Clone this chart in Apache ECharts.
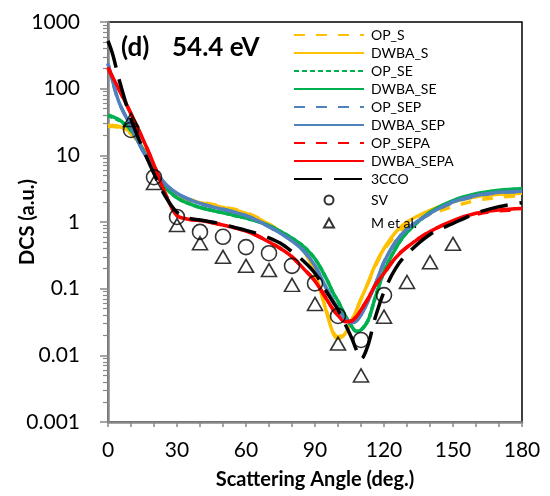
<!DOCTYPE html>
<html><head><meta charset="utf-8">
<script src="https://cdn.jsdelivr.net/npm/echarts@6/dist/echarts.min.js"></script>
<style>html,body{margin:0;padding:0;background:#fff}#c{width:550px;height:496px}</style>
</head><body><div id="c"></div>
<script>
const angles = [0,2,5,10,15,20,25,30,35,40,45,50,55,60,65,70,75,80,85,90,95,98,100,103,106,108,110,113,116,120,125,130,140,150,160,170,180];
const OP_S      = [27,27,26,21,13,6.3,3.5,2.6,2.2,2.0,1.85,1.7,1.55,1.38,1.17,0.93,0.72,0.55,0.38,0.17,0.046,0.022,0.019,0.022,0.034,0.048,0.07,0.12,0.21,0.38,0.62,0.88,1.3,1.7,2.1,2.35,2.5];
const DWBA_S    = [28,28,27,22,13,6.2,3.4,2.5,2.15,1.95,1.8,1.65,1.5,1.35,1.15,0.92,0.72,0.55,0.38,0.17,0.045,0.021,0.018,0.021,0.033,0.047,0.07,0.12,0.22,0.4,0.7,1.0,1.5,2.0,2.4,2.6,2.7];
const OP_SE     = [39,37,33,23.5,12.5,6,3.3,2.3,1.9,1.65,1.5,1.38,1.25,1.15,1.02,0.88,0.72,0.57,0.43,0.28,0.14,0.085,0.065,0.04,0.027,0.023,0.024,0.033,0.07,0.18,0.4,0.7,1.38,2.05,2.6,2.95,3.1];
const DWBA_SE   = [40,38,34,24,12.5,6,3.3,2.3,1.9,1.65,1.5,1.38,1.25,1.15,1.02,0.88,0.72,0.57,0.43,0.28,0.14,0.085,0.065,0.04,0.027,0.023,0.024,0.033,0.07,0.18,0.4,0.7,1.4,2.1,2.65,3.0,3.15];
const OP_SEP    = [235,128,60,27,12,6.3,3.7,2.7,2.2,1.9,1.7,1.55,1.4,1.25,1.05,0.85,0.68,0.52,0.37,0.22,0.1,0.065,0.05,0.036,0.031,0.033,0.04,0.065,0.11,0.25,0.5,0.78,1.33,1.95,2.45,2.75,2.85];
const DWBA_SEP  = [240,130,60,27,12,6.3,3.7,2.7,2.2,1.9,1.7,1.55,1.4,1.25,1.05,0.85,0.68,0.52,0.37,0.22,0.1,0.065,0.05,0.036,0.031,0.033,0.04,0.065,0.11,0.25,0.5,0.78,1.35,2.0,2.5,2.8,2.9];
const OP_SEPA   = [205,148,94,42,18,7.2,2.6,1.25,1.1,1.05,0.98,0.9,0.82,0.73,0.62,0.5,0.4,0.3,0.2,0.13,0.07,0.048,0.04,0.032,0.033,0.038,0.048,0.07,0.11,0.17,0.29,0.42,0.72,1.03,1.3,1.47,1.52];
const DWBA_SEPA = [210,150,95,42,18,7.2,2.6,1.25,1.1,1.05,0.98,0.9,0.82,0.73,0.62,0.5,0.4,0.3,0.2,0.13,0.07,0.048,0.04,0.032,0.033,0.038,0.048,0.07,0.11,0.17,0.29,0.42,0.72,1.05,1.35,1.52,1.6];
const CCO3      = [520,330,130,35,13,5.3,2.4,1.4,1.15,1.07,1.0,0.92,0.83,0.75,0.67,0.58,0.48,0.36,0.26,0.17,0.09,0.062,0.048,0.03,0.018,0.012,0.0088,0.014,0.035,0.09,0.2,0.33,0.65,0.95,1.35,1.7,1.95];
const svAngles  = [10,20,30,40,50,60,70,80,90,100,110,120];
const svValues  = [24,4.7,1.19,0.71,0.6,0.42,0.34,0.22,0.12,0.039,0.017,0.08];
const mAngles   = [10,20,30,40,50,60,70,80,90,100,110,120,130,140,150];
const mValues   = [34,3.85,0.9,0.48,0.3,0.22,0.19,0.114,0.059,0.015,0.005,0.038,0.126,0.25,0.47];
const yMinorTicks = [];
[0.001,0.01,0.1,1,10,100].forEach(d=>{for(let k=2;k<=9;k++) yMinorTicks.push(+(d*k).toPrecision(3));});

const FONT = 'Lato';
const pair = (xs, ys) => xs.map((x,i)=>[x, ys[i]]);
function lineSeries(name, data, color, type, z){
  return {name, type:'line', data: pair(angles, data), smooth:0.35, symbol:'none', z,
    lineStyle:{color, width:3.5, type}, itemStyle:{color}};
}
const Y='#FFC000', G='#00B050', B='#4F81BD', R='#FF0000';
const series = [
  lineSeries('OP_S', OP_S, Y, [11,11], 2),
  lineSeries('DWBA_S', DWBA_S, Y, 'solid', 2),
  lineSeries('OP_SE', OP_SE, G, [5,3], 2),
  lineSeries('DWBA_SE', DWBA_SE, G, 'solid', 2),
  lineSeries('OP_SEP', OP_SEP, B, [11,11], 2),
  lineSeries('DWBA_SEP', DWBA_SEP, B, 'solid', 2),
  lineSeries('OP_SEPA', OP_SEPA, R, [11,11], 2),
  lineSeries('DWBA_SEPA', DWBA_SEPA, R, 'solid', 2),
  lineSeries('3CCO', CCO3, '#000', [28,12], 2),
  {name:'SV', type:'scatter', data: pair(svAngles, svValues), symbol:'circle', symbolSize:15, z:3,
    itemStyle:{color:'rgba(255,255,255,0)', borderColor:'#000', borderWidth:1.6}},
  {name:'M et al.', type:'scatter', data: pair(mAngles, mValues), symbol:'triangle', symbolSize:[15,13], z:3,
    itemStyle:{color:'rgba(255,255,255,0)', borderColor:'#000', borderWidth:1.6}}
];
const chart = echarts.init(document.getElementById('c'), null, {renderer:'canvas'});
chart.setOption({
  animation:false,
  textStyle:{fontFamily:FONT},
  grid:{left:108, right:28, top:22, bottom:74, show:true, borderColor:'#000', borderWidth:1.5},
  graphic:[
    {type:'text', left:121, top:35, z:10, style:{text:'(d)', font:'bold 26px Lato', fill:'#000'}},
    {type:'text', left:172, top:35, z:10, style:{text:'54.4 eV', font:'bold 26px Lato', fill:'#000'}}
  ],
  legend:[
    {data:['OP_S','DWBA_S','OP_SE','DWBA_SE','OP_SEP','DWBA_SEP','OP_SEPA','DWBA_SEPA','3CCO'],
     orient:'vertical', left:293, top:28, itemWidth:70, itemHeight:14, itemGap:4, padding:0,
     itemStyle:{color:'rgba(0,0,0,0)', borderColor:'rgba(0,0,0,0)', borderWidth:0, opacity:0},
     textStyle:{fontFamily:FONT, fontSize:14, color:'#000', padding:[0,0,0,2]}},
    {data:['SV','M et al.'], orient:'vertical', left:323, top:193, itemWidth:10, itemHeight:9, itemGap:9, padding:0,
     textStyle:{fontFamily:FONT, fontSize:14, color:'#000', padding:[0,0,0,32]}}
  ],
  xAxis:{type:'value', min:0, max:180, interval:10,
    name:'Scattering Angle (deg.)', nameLocation:'middle', nameGap:48, nameMoveOverlap:false,
    nameTextStyle:{fontFamily:FONT, fontSize:20, fontWeight:'bold', color:'#000'},
    axisLine:{lineStyle:{color:'#888', width:2.5}},
    axisTick:{length:5, lineStyle:{color:'#888', width:1.5}},
    axisLabel:{fontFamily:FONT, fontSize:21, color:'#000', margin:18, formatter:v=> (v%30===0? String(v):'')},
    splitLine:{show:false}},
  yAxis:[{type:'log', logBase:10, min:0.001, max:1000,
    name:'DCS (a.u.)', nameLocation:'middle', nameGap:70, nameMoveOverlap:false,
    nameTextStyle:{fontFamily:FONT, fontSize:20, fontWeight:'bold', color:'#000'},
    axisLine:{lineStyle:{color:'#888', width:2.5}},
    axisTick:{length:8, lineStyle:{color:'#888', width:1.5}},
    axisLabel:{fontFamily:FONT, fontSize:21, color:'#000', margin:28, formatter:v=>String(+v.toPrecision(3))},
    splitLine:{show:false}},
   {type:'log', logBase:10, min:0.001, max:1000, position:'left',
    axisLine:{show:false}, axisLabel:{show:false}, splitLine:{show:false},
    axisTick:{show:true, length:5, customValues:yMinorTicks, lineStyle:{color:'#888', width:1.2}}}
  ],
  series
});
</script></body></html>
